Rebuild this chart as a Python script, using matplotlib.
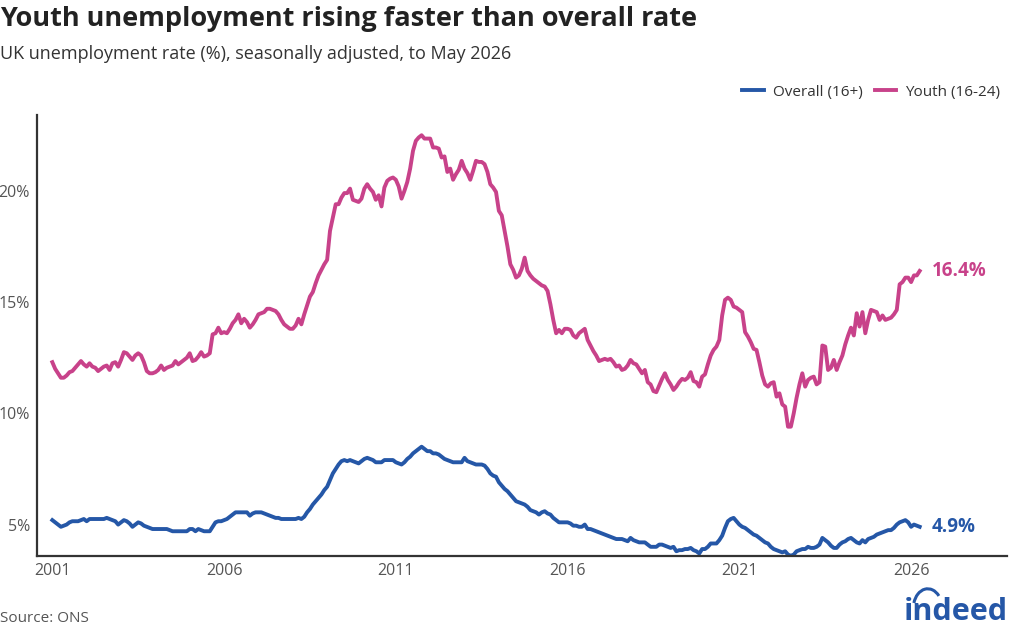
import matplotlib
matplotlib.use("Agg")
import matplotlib.pyplot as plt
from matplotlib.patches import Arc
import numpy as np

plt.rcParams['font.family'] = ['Open Sans', 'DejaVu Sans']

# monthly values, Jan 2001 - Apr 2026
youth = [
    12.3, 12.0, 11.8, 11.6, 11.6, 11.7, 11.85, 11.9, 12.05, 12.2, 12.35, 12.2,   # 2001
    12.1, 12.25, 12.1, 12.05, 11.9, 12.0, 12.1, 12.15, 11.95, 12.25, 12.3, 12.1,  # 2002
    12.4, 12.75, 12.7, 12.55, 12.4, 12.6, 12.7, 12.6, 12.3, 11.9, 11.8, 11.8,    # 2003
    11.85, 11.95, 12.15, 11.95, 12.05, 12.1, 12.15, 12.35, 12.2, 12.3, 12.4, 12.5,  # 2004
    12.7, 12.35, 12.4, 12.55, 12.75, 12.55, 12.6, 12.7, 13.55, 13.6, 13.85, 13.6,  # 2005
    13.65, 13.6, 13.8, 14.05, 14.2, 14.45, 14.05, 14.25, 14.1, 13.85, 14.0, 14.2,  # 2006
    14.45, 14.5, 14.55, 14.7, 14.7, 14.65, 14.6, 14.45, 14.2, 14.0, 13.9, 13.8,  # 2007
    13.8, 13.95, 14.25, 14.0, 14.45, 14.85, 15.25, 15.45, 15.85, 16.2, 16.45, 16.7,  # 2008
    16.9, 18.2, 18.8, 19.4, 19.4, 19.7, 19.9, 19.9, 20.1, 19.6, 19.55, 19.5,     # 2009
    19.65, 20.1, 20.3, 20.1, 19.95, 19.6, 19.8, 19.3, 20.15, 20.45, 20.55, 20.6,  # 2010
    20.5, 20.2, 19.65, 20.0, 20.4, 21.0, 21.8, 22.25, 22.4, 22.5, 22.35, 22.35,  # 2011
    22.35, 21.95, 21.95, 21.9, 21.5, 21.55, 20.85, 21.0, 20.5, 20.75, 20.95, 21.35,  # 2012
    21.0, 20.8, 20.5, 20.9, 21.35, 21.3, 21.3, 21.2, 20.85, 20.3, 20.15, 19.95,  # 2013
    19.1, 18.9, 18.2, 17.5, 16.7, 16.45, 16.1, 16.2, 16.5, 17.0, 16.4, 16.2,     # 2014
    16.05, 15.95, 15.85, 15.75, 15.7, 15.5, 14.9, 14.2, 13.6, 13.75, 13.6, 13.8,  # 2015
    13.8, 13.75, 13.5, 13.4, 13.6, 13.7, 13.8, 13.3, 13.05, 12.8, 12.6, 12.35,   # 2016
    12.4, 12.45, 12.4, 12.45, 12.3, 12.1, 12.15, 11.95, 12.0, 12.15, 12.4, 12.25,  # 2017
    12.2, 12.0, 11.8, 11.95, 11.4, 11.3, 11.0, 10.95, 11.25, 11.55, 11.8, 11.5,  # 2018
    11.3, 11.05, 11.2, 11.4, 11.55, 11.5, 11.6, 11.85, 11.45, 11.4, 11.2, 11.65,  # 2019
    11.75, 12.2, 12.6, 12.85, 13.0, 13.3, 14.4, 15.1, 15.2, 15.1, 14.8, 14.75,   # 2020
    14.65, 14.55, 13.65, 13.45, 13.2, 12.9, 12.85, 12.3, 11.7, 11.3, 11.2, 11.35,  # 2021
    11.4, 10.75, 10.9, 10.4, 10.3, 9.4, 9.4, 10.0, 10.7, 11.3, 11.8, 11.2,       # 2022
    11.5, 11.6, 11.65, 11.3, 11.4, 13.05, 13.0, 11.95, 12.05, 12.4, 11.95, 12.3,  # 2023
    12.6, 13.1, 13.5, 13.85, 13.5, 14.5, 13.9, 14.55, 13.6, 14.2, 14.65, 14.6,   # 2024
    14.55, 14.2, 14.4, 14.2, 14.25, 14.3, 14.45, 14.65, 15.8, 15.9, 16.1, 16.1,  # 2025
    15.9, 16.2, 16.2, 16.4,                                                      # 2026
]

overall = [
    5.2, 5.1, 5.0, 4.9, 4.95, 5.0, 5.1, 5.15, 5.15, 5.15, 5.2, 5.25,    # 2001
    5.15, 5.25, 5.25, 5.25, 5.25, 5.25, 5.25, 5.3, 5.25, 5.2, 5.15, 5.0,  # 2002
    5.1, 5.2, 5.15, 5.05, 4.9, 5.0, 5.1, 5.05, 4.95, 4.9, 4.85, 4.8,     # 2003
    4.8, 4.8, 4.8, 4.8, 4.8, 4.75, 4.7, 4.7, 4.7, 4.7, 4.7, 4.7,         # 2004
    4.8, 4.8, 4.7, 4.8, 4.75, 4.7, 4.7, 4.7, 4.9, 5.1, 5.15, 5.15,       # 2005
    5.2, 5.25, 5.35, 5.45, 5.55, 5.55, 5.55, 5.55, 5.55, 5.4, 5.5, 5.55,  # 2006
    5.55, 5.55, 5.5, 5.45, 5.4, 5.35, 5.3, 5.3, 5.25, 5.25, 5.25, 5.25,  # 2007
    5.25, 5.25, 5.3, 5.25, 5.35, 5.55, 5.7, 5.9, 6.05, 6.2, 6.35, 6.55,  # 2008
    6.7, 7.0, 7.3, 7.5, 7.7, 7.85, 7.9, 7.85, 7.9, 7.85, 7.8, 7.75,      # 2009
    7.85, 7.95, 8.0, 7.95, 7.9, 7.8, 7.8, 7.8, 7.9, 7.9, 7.9, 7.9,       # 2010
    7.8, 7.75, 7.7, 7.8, 7.95, 8.05, 8.2, 8.3, 8.4, 8.5, 8.4, 8.3,       # 2011
    8.3, 8.2, 8.2, 8.15, 8.05, 7.95, 7.9, 7.85, 7.8, 7.8, 7.8, 7.8,      # 2012
    8.0, 7.85, 7.8, 7.75, 7.7, 7.7, 7.7, 7.65, 7.5, 7.3, 7.2, 7.15,      # 2013
    6.9, 6.75, 6.6, 6.5, 6.35, 6.2, 6.05, 6.0, 5.95, 5.9, 5.8, 5.65,     # 2014
    5.6, 5.55, 5.45, 5.55, 5.6, 5.5, 5.45, 5.3, 5.2, 5.1, 5.1, 5.1,      # 2015
    5.1, 5.05, 4.95, 4.95, 4.9, 4.9, 5.0, 4.8, 4.8, 4.75, 4.7, 4.65,     # 2016
    4.6, 4.55, 4.5, 4.45, 4.4, 4.35, 4.35, 4.35, 4.3, 4.25, 4.4, 4.3,    # 2017
    4.25, 4.2, 4.2, 4.2, 4.1, 4.0, 4.0, 4.0, 4.1, 4.1, 4.05, 4.0,        # 2018
    3.95, 4.0, 3.8, 3.85, 3.85, 3.9, 3.9, 3.95, 3.85, 3.8, 3.7, 3.9,     # 2019
    3.9, 4.0, 4.15, 4.15, 4.15, 4.3, 4.5, 4.85, 5.15, 5.25, 5.3, 5.15,   # 2020
    5.0, 4.9, 4.85, 4.75, 4.65, 4.55, 4.5, 4.4, 4.3, 4.2, 4.15, 4.0,     # 2021
    3.9, 3.85, 3.8, 3.75, 3.8, 3.65, 3.6, 3.65, 3.8, 3.85, 3.9, 3.9,     # 2022
    4.0, 3.95, 3.95, 4.0, 4.1, 4.4, 4.3, 4.2, 4.05, 3.95, 3.95, 4.1,     # 2023
    4.2, 4.25, 4.35, 4.4, 4.3, 4.2, 4.15, 4.3, 4.2, 4.35, 4.4, 4.45,     # 2024
    4.55, 4.6, 4.65, 4.7, 4.75, 4.75, 4.85, 5.0, 5.1, 5.15, 5.2, 5.1,    # 2025
    4.9, 5.0, 4.95, 4.9,                                                 # 2026
]

start_year = 2001
tick_years = [2001, 2006, 2011, 2016, 2021, 2026]
y_ticks = [5, 10, 15, 20]

BLUE = '#2557a7'
PINK = '#c8428a'
GREY = '#555555'

t = start_year + np.arange(len(youth)) / 12

fig = plt.figure(figsize=(10.24, 6.4), dpi=100)
ax = fig.add_axes([0.036, 0.131, 0.947, 0.690])

ax.plot(t, overall, color=BLUE, lw=2.8, label='Overall (16+)', solid_joinstyle='round')
ax.plot(t, youth, color=PINK, lw=2.8, label='Youth (16-24)', solid_joinstyle='round')

ax.text(t[-1] + 0.35, youth[-1], f'{youth[-1]:.1f}%', color=PINK, fontsize=13.5,
        fontweight='bold', va='center', ha='left')
ax.text(t[-1] + 0.35, overall[-1], f'{overall[-1]:.1f}%', color=BLUE, fontsize=13.5,
        fontweight='bold', va='center', ha='left')

ax.set_xlim(2000.55, 2028.78)
ax.set_ylim(3.58, 23.43)
ax.set_xticks(tick_years)
ax.set_xticklabels([str(y) for y in tick_years])
ax.set_yticks(y_ticks)
ax.set_yticklabels([f'{v}%' for v in y_ticks])
ax.tick_params(length=0, labelsize=11.5, labelcolor=GREY, pad=5)
for s in ['top', 'right']:
    ax.spines[s].set_visible(False)
for s in ['left', 'bottom']:
    ax.spines[s].set_color('#333333')
    ax.spines[s].set_linewidth(1.6)

leg = ax.legend(loc='lower right', bbox_to_anchor=(1.0, 1.02), ncol=2, frameon=False,
                fontsize=11, handlelength=1.4, handletextpad=0.6, columnspacing=0.8,
                borderaxespad=0)
for txt in leg.get_texts():
    txt.set_color('#333333')

fig.text(0.0, 0.971, 'Youth unemployment rising faster than overall rate', fontsize=19.5,
         fontweight='bold', color='#222222', ha='left', va='center')
fig.text(0.0, 0.916, 'UK unemployment rate (%), seasonally adjusted, to May 2026', fontsize=13,
         color='#333333', ha='left', va='center')
fig.text(0.0, 0.034, 'Source: ONS', fontsize=11, color=GREY, ha='left', va='center')

# indeed logo as text plus the arc over the i
fig.text(0.984, 0.043, 'indeed', fontsize=22, fontweight='bold', color=BLUE,
         ha='right', va='center')
fig.add_artist(Arc((0.906, 0.05), 0.028, 0.06, theta1=60, theta2=150, color=BLUE, lw=2.2,
                   transform=fig.transFigure))

fig.savefig('out.png', dpi=100)
